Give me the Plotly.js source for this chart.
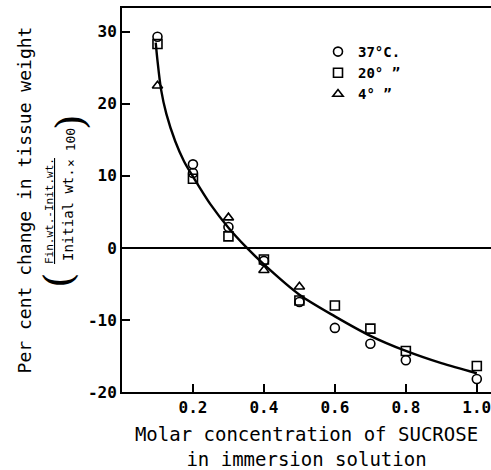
<!DOCTYPE html>
<html>
<head>
<meta charset="utf-8">
<script src="https://cdn.plot.ly/plotly-3.0.1.min.js"></script>
<style>html,body{margin:0;padding:0;background:#fff;}#chart{width:491px;height:470px;}</style>
</head>
<body>
<div id="chart"></div>
<script>
// Data
const seriesNames = ["37°C.", "20° \u201D", "4° \u201D"];
const circleX = [0.1, 0.2, 0.2, 0.3, 0.4, 0.5, 0.6, 0.7, 0.8, 1.0];
const circleY = [29.3, 11.6, 10.4, 2.9, -1.8, -7.5, -11.1, -13.3, -15.6, -18.2];
const squareX = [0.1, 0.2, 0.3, 0.4, 0.5, 0.6, 0.7, 0.8, 1.0];
const squareY = [28.3, 9.6, 1.6, -1.6, -7.3, -8.0, -11.2, -14.3, -16.4];
const triangleX = [0.1, 0.3, 0.4, 0.5];
const triangleY = [22.5, 4.2, -3.1, -5.4];
const curveX = [0.095, 0.1, 0.11, 0.125, 0.15, 0.175, 0.2, 0.25, 0.3, 0.35, 0.4, 0.5, 0.6, 0.7, 0.8, 0.9, 1.0];
const curveY = [28.5, 26.0, 22.0, 18.6, 14.8, 12.0, 9.9, 6.0, 2.8, 0.1, -2.3, -6.5, -9.5, -12.2, -14.3, -16.0, -17.4];
const xTickVals = [0.2, 0.4, 0.6, 0.8, 1.0];
const xTickText = ["0.2", "0.4", "0.6", "0.8", "1.0"];
const yTickVals = [-20, -10, 0, 10, 20, 30];
const yTickText = ["-20", "-10", "0", "10", "20", "30"];

const FONT = "DejaVu Sans Mono, Liberation Mono, monospace";
const mk = (sym) => ({symbol: sym, size: 9, color: "#000", line: {color: "#000", width: 1.6}});

const traces = [
  {x: curveX, y: curveY, mode: "lines", line: {color: "#000", width: 2.4, shape: "spline", smoothing: 0.8}, showlegend: false, hoverinfo: "skip"},
  {x: circleX, y: circleY, mode: "markers", name: seriesNames[0], marker: mk("circle-open")},
  {x: squareX, y: squareY, mode: "markers", name: seriesNames[1], marker: mk("square-open")},
  {x: triangleX, y: triangleY, mode: "markers", name: seriesNames[2], marker: mk("triangle-up-open")}
];

// pixel -> paper helpers (plot area: x 122..491, y 8..392)
const px = (p) => (p - 122) / 369;
const py = (p) => (392 - p) / 384;

const ann = (x, y, text, size, fam) => ({
  xref: "paper", yref: "paper", x: px(x), y: py(y), xanchor: "center", yanchor: "middle",
  text: text, textangle: -90, showarrow: false, font: {family: fam || FONT, size: size, color: "#000"}
});

const layout = {
  width: 491, height: 470,
  margin: {l: 122, r: 0, t: 8, b: 78},
  paper_bgcolor: "#fff", plot_bgcolor: "#fff",
  font: {family: FONT, color: "#000", size: 14},
  showlegend: true,
  legend: {x: px(318), y: py(36), xanchor: "left", yanchor: "top", font: {family: FONT, size: 14, color: "#000", weight: "bold"}, bgcolor: "rgba(0,0,0,0)", tracegroupgap: 0, itemwidth: 30},
  xaxis: {
    range: [0, 1.04], showgrid: false, zeroline: false,
    showline: true, linecolor: "#000", linewidth: 2, mirror: true,
    ticks: "inside", ticklen: 8, tickwidth: 2, tickcolor: "#000",
    tickvals: xTickVals, ticktext: xTickText, ticklabeloverflow: "allow",
    tickfont: {family: FONT, size: 16, color: "#000", weight: "bold"},
    title: {text: "Molar concentration of SUCROSE<br>in immersion solution", font: {family: FONT, size: 19, color: "#000"}, standoff: 12}
  },
  yaxis: {
    range: [-20, 33.3], showgrid: false,
    zeroline: true, zerolinecolor: "#000", zerolinewidth: 2,
    showline: true, linecolor: "#000", linewidth: 2,
    ticks: "inside", ticklen: 8, tickwidth: 2, tickcolor: "#000",
    tickvals: yTickVals, ticktext: yTickText,
    tickfont: {family: FONT, size: 16, color: "#000", weight: "bold"},
    title: {text: "Per cent change in tissue weight", font: {family: FONT, size: 18, color: "#000"}, standoff: 52}
  },
  annotations: [
    ann(50, 211, "<u>Fin.wt.-Init.wt.</u>", 11),
    ann(68, 215, "Initial wt.", 14),
    ann(70, 148, "× 100", 13),
    ann(58, 280, "(", 40, "DejaVu Serif"),
    ann(70, 122, ")", 40, "DejaVu Serif")
  ]
};

Plotly.newPlot("chart", traces, layout, {displayModeBar: false, staticPlot: true});
</script>
</body>
</html>
